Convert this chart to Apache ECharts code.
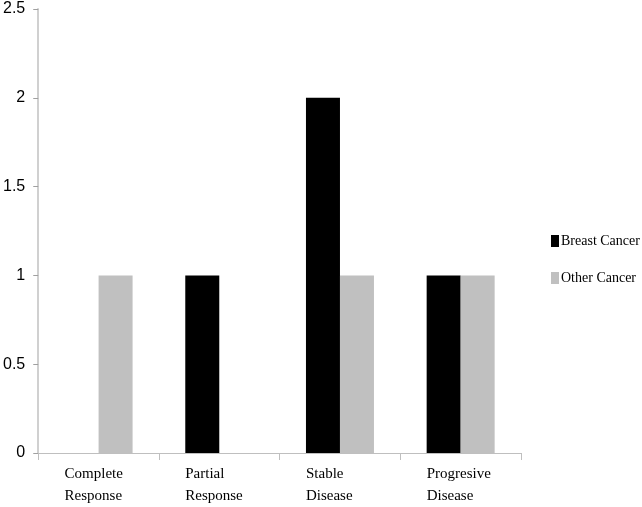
<!DOCTYPE html>
<html>
<head>
<meta charset="utf-8">
<script src="https://cdn.jsdelivr.net/npm/echarts@6/dist/echarts.min.js"></script>
<style>
  html, body { margin: 0; padding: 0; background: #fff; }
  #chart { width: 642px; height: 507px; }
</style>
</head>
<body>
<div id="chart"></div>
<script>
// 类别 / 数据
const categories = ['Complete\nResponse', 'Partial\nResponse', 'Stable\nDisease', 'Progresive\nDisease'];
const breastCancer = [0, 1, 2, 1];
const otherCancer = [1, 0, 1, 1];

const myChart = echarts.init(document.getElementById('chart'));
const option = {
  animation: false,
  backgroundColor: '#fff',
  grid: { left: 37, right: 121, top: 9, bottom: 54, containLabel: false },
  legend: {
    orient: 'vertical',
    left: 546,
    top: 229,
    icon: 'rect',
    itemWidth: 8,
    itemHeight: 12,
    itemGap: 23,
    textStyle: { fontFamily: 'Liberation Serif', fontSize: 14, color: '#000', padding: [0, 0, 0, -3] },
    data: ['Breast Cancer', 'Other Cancer']
  },
  xAxis: {
    type: 'category',
    data: categories,
    axisLine: { lineStyle: { color: '#bfbfbf', width: 1 } },
    axisTick: { show: true, length: 7, inside: false, lineStyle: { color: '#bfbfbf' } },
    axisLabel: {
      fontFamily: 'Liberation Serif',
      fontSize: 15,
      color: '#000',
      lineHeight: 22,
      align: 'left',
      margin: 10,
      padding: [0, 0, 0, -34]
    }
  },
  yAxis: {
    type: 'value',
    min: 0,
    max: 2.5,
    interval: 0.5,
    splitLine: { show: false },
    axisLine: { show: true, lineStyle: { color: '#d0d0d0', width: 2 } },
    axisTick: { show: true, length: 5, lineStyle: { color: '#a0a0a0' } },
    axisLabel: { fontFamily: 'Liberation Sans', fontSize: 16, color: '#000', margin: 13 }
  },
  series: [
    {
      name: 'Breast Cancer',
      type: 'bar',
      data: breastCancer,
      barWidth: 34,
      barGap: '0%',
      itemStyle: { color: '#000' }
    },
    {
      name: 'Other Cancer',
      type: 'bar',
      data: otherCancer,
      barWidth: 34,
      barGap: '0%',
      itemStyle: { color: '#c0c0c0' }
    }
  ]
};
myChart.setOption(option);
</script>
</body>
</html>
